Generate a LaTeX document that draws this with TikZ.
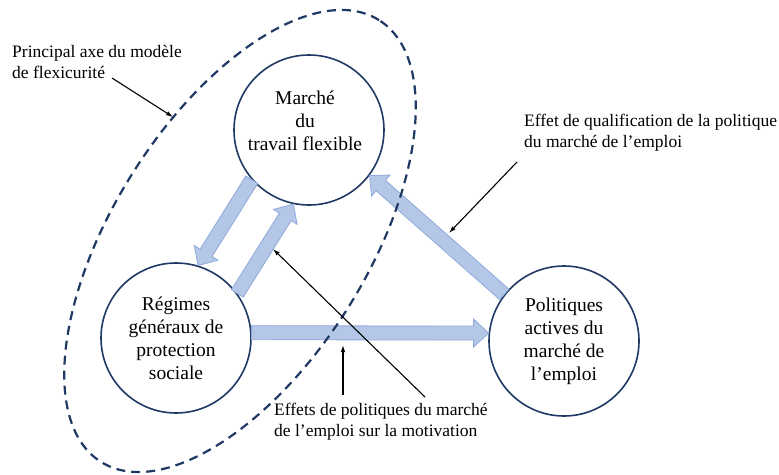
\documentclass[tikz,border=0pt]{standalone}
\usepackage{fontspec}
\setmainfont{Liberation Serif}
\usepackage{tikz}
\usetikzlibrary{calc,arrows.meta}

\definecolor{navy}{RGB}{32,56,100}
\definecolor{arrfill}{RGB}{180,199,231}
\definecolor{arrline}{RGB}{143,170,220}

% wide arrow from #1 to #2
\newcommand{\blockarrow}[2]{%
  \path (#1) coordinate (ba-s) (#2) coordinate (ba-t) ($(ba-t)!15pt!(ba-s)$) coordinate (ba-b);
  \filldraw[fill=arrfill,draw=arrline,line width=0.8pt]
    ($(ba-s)!7pt!90:(ba-t)$) -- ($(ba-b)!7pt!90:(ba-t)$) -- ($(ba-b)!14pt!90:(ba-t)$) -- (ba-t)
    -- ($(ba-b)!14pt!-90:(ba-t)$) -- ($(ba-b)!7pt!-90:(ba-t)$) -- ($(ba-s)!7pt!-90:(ba-t)$) -- cycle;}

\begin{document}
\begin{tikzpicture}[x=1pt,y=-1pt,
    circ/.style={circle,draw=navy,line width=1.6pt,minimum size=150pt,inner sep=0pt,fill=white},
    intext/.style={align=center,font=\fontsize{19.5}{23}\selectfont,inner sep=0pt},
    lbl/.style={align=left,anchor=west,font=\fontsize{17.5}{21}\selectfont,inner sep=0pt},
    pointer/.style={-{Latex[length=7pt,width=4.5pt]},line width=1.1pt}]
        \useasboundingbox (0,0) rectangle (779,474);

        \node[circ] (mar) at (309,130) {};
        \node[intext] (martxt) at (305,121) {Marché\\du\\travail flexible};
        \node[circ,intext] (reg) at (176,338) {Régimes\\généraux de\\protection\\sociale};
        \node[circ,intext] (pol) at (564,341) {Politiques\\actives du\\marché de\\l’emploi};

        \blockarrow{mar.221}{reg.73}
        \blockarrow{reg.36}{mar.258}
        \blockarrow{pol.142}{mar.-37}
        \blockarrow{reg.4}{pol.174}

        \draw[navy,line width=2.2pt,dash pattern=on 9pt off 6pt] (240,241) circle [x radius=261pt,y radius=127pt,rotate=57.8];

        \node[lbl] (axe) at (12,62) {Principal axe du modèle\\de flexicurité};
        \node[lbl] (qual) at (524,133) {Effet de qualification de la politique\\du marché de l’emploi};
        \node[lbl] (motiv) at (274,422) {Effets de politiques du marché\\de l’emploi sur la motivation};

        \coordinate (a1) at (112,78);
        \coordinate (b1) at (173,117);
        \coordinate (a2) at (517,162);
        \coordinate (b2) at (449,233);
        \coordinate (a3) at (343,395);
        \coordinate (b3) at (343,345);
        \coordinate (a4) at (425,397);
        \coordinate (b4) at (273,249);
        \draw[pointer] (a1) -- (b1);
        \draw[pointer] (a2) -- (b2);
        \draw[pointer] (a3) -- (b3);
        \draw[pointer] (a4) -- (b4);
    \end{tikzpicture}
\end{document}
